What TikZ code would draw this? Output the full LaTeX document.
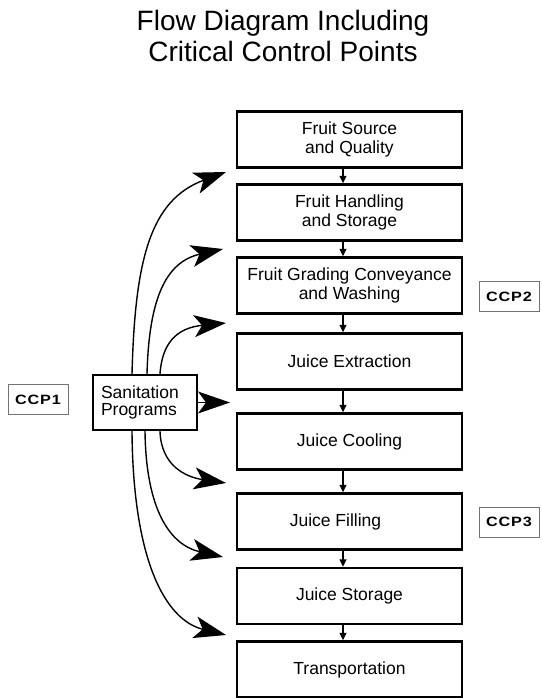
\documentclass[tikz,border=0pt]{standalone}
\usepackage{fontspec}
\setmainfont{Liberation Sans}
\newfontfamily\ccpfont[FakeStretch=1.2,LetterSpace=6]{Liberation Sans}
\usetikzlibrary{arrows.meta}
\begin{document}
\begin{tikzpicture}[x=1pt,y=-1pt,
  stepbox/.style={draw, line width=2.4pt, minimum width=225pt, minimum height=56pt, inner sep=0pt, align=center, font=\fontsize{17.5}{18.5}\selectfont},
  ccpbox/.style={draw=black!55, line width=0.8pt, minimum width=60pt, minimum height=30pt, inner sep=0pt, font=\ccpfont\bfseries\fontsize{13.5}{15}\selectfont},
  sanbox/.style={draw, line width=2.4pt, minimum width=104pt, minimum height=55pt, inner sep=0pt, text width=88pt, align=left, font=\fontsize{17.5}{17}\selectfont},
  titlefont/.style={font=\fontsize{28}{31}\selectfont, anchor=base},
  flow/.style={line width=1.3pt, -{Triangle[length=7.5pt,width=7pt]}},
  sanarrow/.style={line width=1.4pt, -{Stealth[length=32pt,width=22pt,inset=8pt]}},
  ]
\useasboundingbox (0,0) rectangle (541,698);

\node[titlefont] (title1) at (283,31) {Flow Diagram Including};
\node[titlefont] (title2) at (283,62) {Critical Control Points};

\node[stepbox] (b1) at (349.5,139.5) {Fruit Source\\ and Quality};
\node[stepbox] (b2) at (349.5,212.5) {Fruit Handling\\ and Storage};
\node[stepbox] (b3) at (349.5,285.5) {Fruit Grading Conveyance\\ and Washing};
\node[stepbox] (b4) at (349.5,361.5) {Juice Extraction};
\node[stepbox] (b5) at (349.5,441.5) {Juice Cooling};
\node[stepbox] (b6) at (349.5,521.5) {Juice Filling\hspace*{28pt}};
\node[stepbox] (b7) at (349.5,596) {Juice Storage};
\node[stepbox] (b8) at (349.5,669.5) {Transportation};

\foreach \a/\b in {b1/b2,b2/b3,b3/b4,b4/b5,b5/b6,b6/b7,b7/b8}
  \draw[flow] ([xshift=-6.5pt]\a.south) -- ([xshift=-6.5pt]\b.north);

\node[sanbox] (san) at (145,402.5) {Sanitation\\Programs};

\node[ccpbox] (ccp1) at (38,399.5) {CCP1};
\node[ccpbox] (ccp2) at (509,296.5) {CCP2};
\node[ccpbox] (ccp3) at (509,522) {CCP3};

\coordinate (t1) at (226,172);
\coordinate (t2) at (223,249);
\coordinate (t3) at (226,323);
\coordinate (t4) at (230,402.5);
\coordinate (t5) at (226,483);
\coordinate (t6) at (223,557);
\coordinate (t7) at (226,635);

\draw[sanarrow] ([xshift=-13pt]san.north) .. controls (135,260) and (150,200) .. (t1);
\draw[sanarrow] ([xshift=2pt]san.north) .. controls (149,300) and (165,262) .. (t2);
\draw[sanarrow] ([xshift=15pt]san.north) .. controls (162,345) and (175,328) .. (t3);
\draw[sanarrow] (san.east) -- (t4);
\draw[sanarrow] ([xshift=15pt]san.south) .. controls (161,465) and (185,477) .. (t5);
\draw[sanarrow] ([xshift=0pt]san.south) .. controls (146,510) and (170,545) .. (t6);
\draw[sanarrow] ([xshift=-13pt]san.south) .. controls (133,560) and (165,620) .. (t7);
\end{tikzpicture}
\end{document}
